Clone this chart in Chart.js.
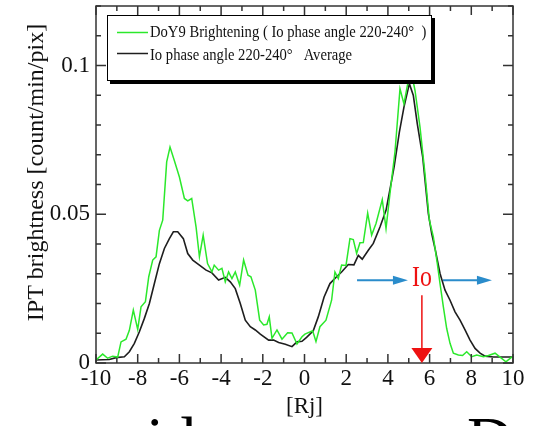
<!DOCTYPE html>
<html>
<head>
<meta charset="utf-8">
<script src="https://cdn.jsdelivr.net/npm/chart.js@4.4.0/dist/chart.umd.min.js"></script>
<style>
  html, body { margin: 0; padding: 0; background: #fff; overflow: hidden; }
  #wrap { width: 533px; height: 426px; }
</style>
</head>
<body>
<div id="wrap"><canvas id="ipt" width="533" height="426"></canvas></div>
<script>
// DoY9 brightening profile (green)
const rjDoy9 = [-10, -9.68, -9.44, -9.2, -8.96, -8.8, -8.56, -8.4, -8.21, -8.0, -7.84, -7.63, -7.47, -7.28, -7.12,
  -6.96, -6.8, -6.61, -6.45, -6.24, -6.0, -5.76, -5.6, -5.41, -5.2, -5.04, -4.86, -4.65, -4.44, -4.33, -4.12,
  -3.96, -3.8, -3.64, -3.48, -3.32, -3.11, -2.92, -2.71, -2.57, -2.36, -2.15, -1.96, -1.8, -1.69, -1.56, -1.32,
  -1.08, -0.81, -0.6, -0.36, -0.12, 0.02, 0.39, 0.55, 0.74, 1.03, 1.3, 1.46, 1.62, 1.78, 1.99, 2.18, 2.34, 2.5,
  2.66, 2.82, 3.03, 3.22, 3.43, 3.73, 3.91, 4.1, 4.34, 4.58, 4.77, 4.98, 5.14, 5.3, 5.54, 5.78, 5.99, 6.18, 6.37,
  6.5, 6.66, 6.82, 6.98, 7.14, 7.38, 7.58, 7.78, 8.02, 8.26, 8.58, 8.82, 9.14, 9.38, 9.66, 9.94, 10];
const doy9Brightness = [0.001, 0.003, 0.0016, 0.0023, 0.002, 0.0071, 0.008, 0.011, 0.0178, 0.0113, 0.0189, 0.0206, 0.029, 0.0346, 0.0357,
  0.0446, 0.048, 0.0676, 0.0726, 0.068, 0.0625, 0.0553, 0.0545, 0.0553, 0.0457, 0.0357, 0.043, 0.0334, 0.0306, 0.0329, 0.0312,
  0.0318, 0.0273, 0.0306, 0.0284, 0.0306, 0.0262, 0.0346, 0.0295, 0.029, 0.0245, 0.0144, 0.0128, 0.013, 0.0155, 0.0083, 0.0111,
  0.008, 0.0102, 0.0101, 0.0064, 0.0088, 0.0097, 0.0108, 0.0072, 0.0122, 0.0144, 0.0211, 0.0306, 0.0284, 0.0329, 0.0328, 0.0418, 0.0415, 0.0368,
  0.0404, 0.0405, 0.0504, 0.043, 0.0469, 0.0549, 0.0452, 0.057, 0.071, 0.0922, 0.0871, 0.095, 0.0973, 0.0916, 0.0793, 0.0635, 0.048, 0.0424, 0.0334,
  0.0267, 0.0189, 0.0116, 0.0066, 0.0033, 0.0027, 0.0025, 0.0038, 0.0021, 0.0027, 0.0021, 0.0025, 0.0033, 0.002, 0.0004, 0.002, 0.002];

// Average profile for Io phase angle 220-240 deg (black)
const rjAverage = [-10, -9.36, -9.04, -8.64, -8.4, -8.16, -7.92, -7.68, -7.44, -7.2, -6.96, -6.72, -6.48, -6.29, -6.08,
  -5.81, -5.6, -5.36, -5.04, -4.72, -4.44, -4.12, -3.8, -3.56, -3.32, -3.08, -2.84, -2.6, -2.36, -2.12, -1.72, -1.48,
  -1.24, -0.92, -0.6, -0.36, -0.12, 0.1, 0.42, 0.66, 0.94, 1.22, 1.54, 1.78, 2.1, 2.37, 2.58, 2.77, 3.06, 3.3, 3.62,
  3.91, 4.18, 4.3, 4.55, 4.77, 5.03, 5.22, 5.41, 5.67, 5.94, 6.1, 6.26, 6.5, 6.74, 6.98, 7.22, 7.46, 7.7, 7.94, 8.18,
  8.42, 8.66, 9.06, 9.54, 10];
const averageBrightness = [0.001, 0.0012, 0.0018, 0.0021, 0.0038, 0.0066, 0.0105, 0.015, 0.02, 0.0267, 0.0334, 0.0385, 0.0418, 0.0441, 0.0441,
  0.0418, 0.0368, 0.0346, 0.0329, 0.0312, 0.0303, 0.0279, 0.0288, 0.0273, 0.025, 0.02, 0.0144, 0.0122, 0.0111, 0.0097, 0.0077, 0.0077,
  0.0069, 0.0063, 0.0055, 0.0071, 0.0073, 0.0086, 0.0108, 0.0155, 0.0222, 0.0267, 0.029, 0.0306, 0.0331, 0.033, 0.0362, 0.0349, 0.0379, 0.0402, 0.0457,
  0.0513, 0.0614, 0.066, 0.0776, 0.086, 0.0939, 0.0899, 0.0804, 0.0692, 0.0502, 0.0435, 0.0385, 0.0301, 0.0245, 0.0211, 0.0172, 0.0144, 0.0111, 0.0077, 0.0049,
  0.0033, 0.0023, 0.002, 0.002, 0.002];

const seriesLabels = ['DoY9 Brightening ( Io phase angle 220-240°  )', 'Io phase angle 220-240°   Average'];
const ioRj = 5.63;          // Io position marker
const ioLevel = 0.0285;     // height of the "Io" label and arrows
const arrowSpans = [[2.52, 4.96], [6.64, 8.99]];

const SERIF = "'Liberation Serif', 'Times New Roman', serif";
const GREEN = '#2be82b';
const BLACK = '#1e1e1e';

const pts = (xs, ys) => xs.map((x, i) => ({ x, y: ys[i] }));

// box frame plus inward ticks on all four sides
const frameTicks = {
  id: 'frameTicks',
  afterDatasetsDraw(chart) {
    const { ctx, chartArea: a, scales: { x, y } } = chart;
    ctx.save();
    ctx.strokeStyle = '#333';
    ctx.lineWidth = 1.5;
    ctx.strokeRect(a.left, a.top, a.right - a.left, a.bottom - a.top);
    ctx.beginPath();
    x.ticks.forEach(t => {
      const px = x.getPixelForValue(t.value);
      const len = Math.round(t.value) % 2 === 0 ? 9 : 5;
      ctx.moveTo(px, a.bottom); ctx.lineTo(px, a.bottom - len);
      ctx.moveTo(px, a.top); ctx.lineTo(px, a.top + len);
    });
    y.ticks.forEach(t => {
      const py = y.getPixelForValue(t.value);
      const len = Math.round(t.value * 100) % 5 === 0 ? 10 : 5;
      ctx.moveTo(a.left, py); ctx.lineTo(a.left + len, py);
      ctx.moveTo(a.right, py); ctx.lineTo(a.right - len, py);
    });
    ctx.stroke();
    ctx.restore();
  }
};

function arrowHead(ctx, tipX, tipY, dx, dy, len, half) {
  // dx, dy: unit direction of the arrow
  ctx.beginPath();
  ctx.moveTo(tipX, tipY);
  ctx.lineTo(tipX - dx * len - dy * half, tipY - dy * len + dx * half);
  ctx.lineTo(tipX - dx * len + dy * half, tipY - dy * len - dx * half);
  ctx.closePath();
  ctx.fill();
}

// Io label with the blue extent arrows and the red position arrow
const ioMarks = {
  id: 'ioMarks',
  afterDatasetsDraw(chart) {
    const { ctx, scales: { x, y } } = chart;
    const ioX = x.getPixelForValue(ioRj);
    const ioY = y.getPixelForValue(ioLevel);
    ctx.save();
    ctx.strokeStyle = '#2a8ccb';
    ctx.fillStyle = '#2a8ccb';
    ctx.lineWidth = 2;
    arrowSpans.forEach(([from, to]) => {
      const x0 = x.getPixelForValue(from), x1 = x.getPixelForValue(to);
      const ay = ioY + 2;
      ctx.beginPath();
      ctx.moveTo(x0, ay); ctx.lineTo(x1 - 12, ay);
      ctx.stroke();
      arrowHead(ctx, x1, ay, 1, 0, 15, 4.5);
    });

    ctx.fillStyle = '#ee1111';
    ctx.strokeStyle = '#ee1111';
    ctx.font = '29px ' + SERIF;
    ctx.textAlign = 'center';
    ctx.textBaseline = 'middle';
    ctx.save();
    ctx.translate(ioX, ioY);
    ctx.scale(0.82, 1);
    ctx.fillText('Io', 0, 0);
    ctx.restore();

    const bottom = y.getPixelForValue(0);
    ctx.lineWidth = 1.5;
    ctx.beginPath();
    ctx.moveTo(ioX, ioY + 17); ctx.lineTo(ioX, bottom - 12);
    ctx.stroke();
    arrowHead(ctx, ioX, bottom, 0, 1, 15, 10.5);
    ctx.restore();
  }
};

// legend box with drop shadow, inside the plot
const boxLegend = {
  id: 'boxLegend',
  afterDatasetsDraw(chart) {
    const { ctx } = chart;
    const L = 107, T = 15, W = 324, H = 65;
    ctx.save();
    ctx.fillStyle = '#000';
    ctx.fillRect(L + 3, T + 3, W + 1, H + 1);
    ctx.fillStyle = '#fff';
    ctx.fillRect(L, T, W, H);
    ctx.strokeStyle = '#000';
    ctx.lineWidth = 1;
    ctx.strokeRect(L + 0.5, T + 0.5, W, H);

    const rows = [{ lineY: 32.5, base: 36.5 }, { lineY: 53.5, base: 60 }];
    chart.data.datasets.forEach((ds, i) => {
      const r = rows[i];
      ctx.strokeStyle = ds.borderColor;
      ctx.lineWidth = 1.5;
      ctx.beginPath();
      ctx.moveTo(117, r.lineY); ctx.lineTo(148, r.lineY);
      ctx.stroke();
      ctx.save();
      ctx.translate(150, r.base);
      ctx.scale(0.86, 1);
      ctx.fillStyle = '#111';
      ctx.font = '17px ' + SERIF;
      ctx.textBaseline = 'alphabetic';
      ctx.fillText(ds.label, 0, 0);
      ctx.restore();
    });
    ctx.restore();
  }
};

// large caption text running along the bottom edge
const captionText = {
  id: 'captionText',
  afterDraw(chart) {
    const { ctx } = chart;
    ctx.save();
    ctx.fillStyle = '#000';
    ctx.font = '64px ' + SERIF;
    ctx.textBaseline = 'alphabetic';
    ctx.fillText('wide', 100, 461);
    ctx.fillText('D', 467, 461);
    ctx.restore();
  }
};

new Chart(document.getElementById('ipt'), {
  type: 'line',
  data: {
    datasets: [
      {
        label: seriesLabels[0],
        data: pts(rjDoy9, doy9Brightness),
        borderColor: GREEN,
        borderWidth: 1.5,
        pointRadius: 0,
        tension: 0
      },
      {
        label: seriesLabels[1],
        data: pts(rjAverage, averageBrightness),
        borderColor: BLACK,
        borderWidth: 1.6,
        pointRadius: 0,
        tension: 0
      }
    ]
  },
  options: {
    responsive: false,
    animation: false,
    devicePixelRatio: 1,
    layout: { padding: { top: 6, right: 20, left: 0, bottom: 0 } },
    plugins: { legend: { display: false }, tooltip: { enabled: false } },
    scales: {
      x: {
        type: 'linear',
        min: -10,
        max: 10,
        grid: { display: false, drawTicks: false },
        border: { display: false },
        ticks: {
          stepSize: 1,
          autoSkip: false,
          maxRotation: 0,
          padding: 2,
          color: '#111',
          font: { family: SERIF, size: 23 },
          callback: v => (Math.round(v) % 2 === 0 ? String(v) : '')
        },
        title: {
          display: true,
          text: '[Rj]',
          color: '#111',
          font: { family: SERIF, size: 23 },
          padding: { top: 0, bottom: 5 }
        },
        afterFit: s => { s.height = 63; s.paddingLeft = 0; s.paddingRight = 0; }
      },
      y: {
        min: 0,
        max: 0.12,
        grid: { display: false, drawTicks: false },
        border: { display: false },
        ticks: {
          stepSize: 0.01,
          autoSkip: false,
          padding: 6,
          color: '#111',
          font: { family: SERIF, size: 23 },
          callback: v => {
            const n = Math.round(v * 100);
            if (n % 5 !== 0) return '';
            return n === 0 ? '0' : String(n / 100);
          }
        },
        title: {
          display: true,
          text: '    IPT brightness [count/min/pix]',
          color: '#111',
          font: { family: SERIF, size: 24 },
          padding: { top: 22, bottom: 0 }
        },
        afterFit: s => { s.width = 96; s.paddingTop = 0; s.paddingBottom = 0; }
      }
    }
  },
  plugins: [frameTicks, ioMarks, boxLegend, captionText]
});
</script>
</body>
</html>
